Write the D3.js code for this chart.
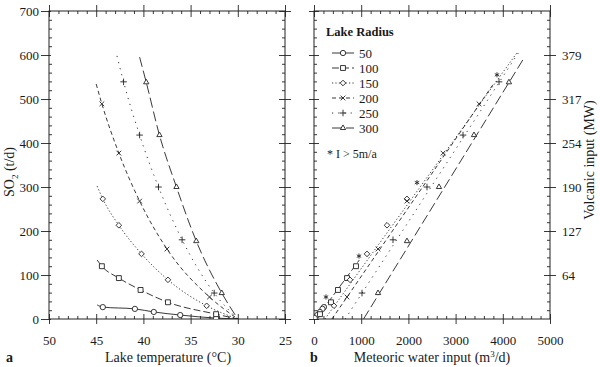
<!DOCTYPE html>
<html>
<head>
<meta charset="utf-8">
<script src="https://cdn.jsdelivr.net/npm/d3@7"></script>
<style>
  body { margin: 0; background: #fff; }
  text { font-family: "Liberation Serif", "DejaVu Serif", serif; fill: #1a1a1a; }
</style>
</head>
<body>
<svg id="chart" width="600" height="367"></svg>
<script>
// lake radius series
const radii = [50, 100, 150, 200, 250, 300];
const dashes = ['none', '7,3', '1.2,2.2', '4,3', '1.2,5', '10,4'];

// panel a: curve nodes (first and last are only line ends, markers on the rest)
const tempA = [
    [44.9, 44.3, 40.9, 38.9, 36.1, 32.3, 30.0],
    [44.9, 44.4, 42.6, 40.3, 37.4, 32.3, 30.0],
    [44.9, 44.3, 42.6, 40.2, 37.4, 33.3, 30.0],
    [45.0, 44.4, 42.6, 40.4, 37.5, 33.0, 30.0],
    [42.8, 42.1, 40.4, 38.4, 35.9, 32.5, 30.0],
    [40.4, 39.7, 38.3, 36.5, 34.4, 31.7, 30.0]
];
const so2A = [
    [32, 27, 23, 16, 9, 2, 0],
    [134, 120, 93, 66, 38, 11, 0],
    [302, 273, 213, 148, 89, 30, 0],
    [534, 489, 377, 268, 159, 50, 0],
    [598, 539, 418, 300, 180, 59, 0],
    [595, 538, 418, 300, 177, 59, 0]
];

// panel b: meteoric water at the marker points (same SO2 as panel a markers)
const waterB = [
    [210, 180, 125, 70, 15],
    [890, 700, 508, 360, 127],
    [1970, 1547, 1123, 763, 424],
    [3496, 2733, 1970, 1356, 699],
    [3920, 3157, 2394, 1674, 1017],
    [4130, 3390, 2648, 1970, 1356]
];
// panel b straight line ends [water, SO2]
const lineStartB = [[0, 0], [40, 0], [230, 0], [380, 0], [660, 0], [1050, 0]];
const lineEndB = [[240, 33], [960, 134], [4300, 605], [3800, 534], [4330, 605], [4460, 595]];

// I > 5m/a points
const starWater = [254, 953, 2182, 3877];
const starSO2 = [50, 143, 310, 555];

const volcTicks = [100, 200, 300, 400, 500, 600];
const volcLabels = ['64', '127', '190', '254', '317', '379'];

const svg = d3.select('#chart');
const ink = '#222';

const yS = d3.scaleLinear().domain([0, 700]).range([319, 11]);
const xA = d3.scaleLinear().domain([50, 25]).range([49, 285]);
const xB = d3.scaleLinear().domain([0, 5000]).range([314, 550]);

const symbols = [d3.symbolCircle, d3.symbolSquare, d3.symbolDiamond2, d3.symbolX, d3.symbolPlus, d3.symbolTriangle2];
const symSize = [22, 24, 20, 16, 16, 20];

function drawMarker(g, i, x, y) {
    g.append('path')
        .attr('d', d3.symbol(symbols[i], symSize[i])())
        .attr('transform', `translate(${x},${y})`)
        .attr('fill', '#fff')
        .attr('stroke', ink)
        .attr('stroke-width', 0.9);
}

function styleAxis(g) {
    g.select('.domain').remove();
    g.selectAll('line').attr('stroke', ink).attr('stroke-width', 0.9);
    g.selectAll('text').attr('font-size', 13).attr('fill', '#1a1a1a')
        .style('font-family', '"Liberation Serif", serif');
}

function frame(x, y, minorX, minorY, labelLeft, rightAxis) {
    let [x0, x1] = x.range();
    let [y0, y1] = y.range();
    let majX = x.ticks(5), majY = d3.range(0, 701, 100);

    // bottom
    svg.append('g').attr('transform', `translate(0,${y0})`)
        .call(d3.axisBottom(x).tickValues(majX).tickSize(5).tickPadding(12).tickFormat(d3.format('d')))
        .call(styleAxis);
    svg.append('g').attr('transform', `translate(0,${y0})`)
        .call(d3.axisTop(x).tickValues(majX).tickSize(5).tickFormat(''))
        .call(styleAxis);
    svg.append('g').attr('transform', `translate(0,${y0})`)
        .call(d3.axisTop(x).tickValues(minorX).tickSize(3).tickFormat(''))
        .call(styleAxis);
    // top
    svg.append('g').attr('transform', `translate(0,${y1})`)
        .call(d3.axisTop(x).tickValues(majX).tickSize(6).tickFormat(''))
        .call(styleAxis);
    svg.append('g').attr('transform', `translate(0,${y1})`)
        .call(d3.axisBottom(x).tickValues(majX).tickSize(6).tickFormat(''))
        .call(styleAxis);
    svg.append('g').attr('transform', `translate(0,${y1})`)
        .call(d3.axisBottom(x).tickValues(minorX).tickSize(3).tickFormat(''))
        .call(styleAxis);
    // left
    let left = d3.axisLeft(y).tickValues(majY).tickSize(labelLeft ? 8 : 5).tickPadding(2);
    if (!labelLeft) left.tickFormat('');
    svg.append('g').attr('transform', `translate(${x0},0)`).call(left).call(styleAxis);
    svg.append('g').attr('transform', `translate(${x0},0)`)
        .call(d3.axisRight(y).tickValues(majY).tickSize(labelLeft ? 2 : 5).tickFormat(''))
        .call(styleAxis);
    svg.append('g').attr('transform', `translate(${x0},0)`)
        .call(d3.axisRight(y).tickValues(minorY).tickSize(3).tickFormat(''))
        .call(styleAxis);
    // right
    let rMaj = rightAxis ? volcTicks : majY;
    let right = d3.axisRight(y).tickValues(rMaj).tickSize(6).tickPadding(6);
    if (rightAxis) right.tickFormat((d, i) => volcLabels[i]);
    else right.tickFormat('');
    svg.append('g').attr('transform', `translate(${x1},0)`).call(right).call(styleAxis);
    svg.append('g').attr('transform', `translate(${x1},0)`)
        .call(d3.axisLeft(y).tickValues(rMaj).tickSize(6).tickFormat(''))
        .call(styleAxis);
    svg.append('g').attr('transform', `translate(${x1},0)`)
        .call(d3.axisLeft(y).tickValues(minorY).tickSize(3).tickFormat(''))
        .call(styleAxis);

    svg.append('rect')
        .attr('x', x0).attr('y', y1).attr('width', x1 - x0).attr('height', y0 - y1)
        .attr('fill', 'none').attr('stroke', ink).attr('stroke-width', 1);
}

const minorY = d3.range(0, 701, 20).filter(d => d % 100 !== 0);
frame(xA, yS, d3.range(25, 51, 1).filter(d => d % 5 !== 0), minorY, true, false);
frame(xB, yS, d3.range(0, 5001, 200).filter(d => d % 1000 !== 0), minorY, false, true);

// clip paths
let defs = svg.append('defs');
defs.append('clipPath').attr('id', 'clipA').append('rect')
    .attr('x', 49).attr('y', 11).attr('width', 236).attr('height', 308);
defs.append('clipPath').attr('id', 'clipB').append('rect')
    .attr('x', 314).attr('y', 11).attr('width', 236).attr('height', 308);

// panel a curves
let gA = svg.append('g').attr('clip-path', 'url(#clipA)');
let lineA = d3.line().curve(d3.curveMonotoneX);
radii.forEach((r, i) => {
    let pts = tempA[i].map((t, j) => [xA(t), yS(so2A[i][j])]);
    gA.append('path').attr('d', lineA(pts))
        .attr('fill', 'none').attr('stroke', ink).attr('stroke-width', 0.9)
        .attr('stroke-dasharray', dashes[i]);
});
radii.forEach((r, i) => {
    for (let j = 1; j < tempA[i].length - 1; j++)
        drawMarker(gA, i, xA(tempA[i][j]), yS(so2A[i][j]));
});

// panel b lines
let gB = svg.append('g').attr('clip-path', 'url(#clipB)');
radii.forEach((r, i) => {
    gB.append('line')
        .attr('x1', xB(lineStartB[i][0])).attr('y1', yS(lineStartB[i][1]))
        .attr('x2', xB(lineEndB[i][0])).attr('y2', yS(lineEndB[i][1]))
        .attr('stroke', ink).attr('stroke-width', 0.9)
        .attr('stroke-dasharray', dashes[i]);
});
radii.forEach((r, i) => {
    waterB[i].forEach((w, j) => drawMarker(gB, i, xB(w), yS(so2A[i][j + 1])));
});
starWater.forEach((w, j) => {
    gB.append('path').attr('d', d3.symbol(d3.symbolAsterisk, 18)())
        .attr('transform', `translate(${xB(w)},${yS(starSO2[j])})`)
        .attr('fill', 'none').attr('stroke', ink).attr('stroke-width', 0.9);
});

// legend
let lg = svg.append('g');
lg.append('text').attr('x', 326).attr('y', 36).attr('font-size', 12.5)
    .attr('font-weight', 'bold').text('Lake Radius');
radii.forEach((r, i) => {
    let y = 53 + i * 15;
    lg.append('line').attr('x1', 332).attr('x2', 354).attr('y1', y).attr('y2', y)
        .attr('stroke', ink).attr('stroke-width', 0.9).attr('stroke-dasharray', dashes[i]);
    drawMarker(lg, i, 343, y);
    lg.append('text').attr('x', 359).attr('y', y + 4.5).attr('font-size', 13).text(r);
});
lg.append('text').attr('x', 327).attr('y', 158).attr('font-size', 12).text('* I > 5m/a');

// axis titles
svg.append('text').attr('x', 168).attr('y', 362).attr('text-anchor', 'middle')
    .attr('font-size', 14).text('Lake temperature (°C)');
let mt = svg.append('text').attr('x', 432).attr('y', 362).attr('text-anchor', 'middle')
    .attr('font-size', 14);
mt.append('tspan').text('Meteoric water input (m');
mt.append('tspan').attr('font-size', 9).attr('dy', -5).text('3');
mt.append('tspan').attr('dy', 5).text('/d)');

let st = svg.append('text').attr('transform', 'translate(14,172) rotate(-90)')
    .attr('text-anchor', 'middle').attr('font-size', 14);
st.append('tspan').text('SO');
st.append('tspan').attr('font-size', 9).attr('dy', 4).text('2');
st.append('tspan').attr('dy', -4).text(' (t/d)');

svg.append('text').attr('transform', 'translate(594,160) rotate(-90)')
    .attr('text-anchor', 'middle').attr('font-size', 14).text('Volcanic input (MW)');

svg.append('text').attr('x', 6).attr('y', 362).attr('font-size', 14)
    .attr('font-weight', 'bold').text('a');
svg.append('text').attr('x', 310).attr('y', 362).attr('font-size', 14)
    .attr('font-weight', 'bold').text('b');
</script>
</body>
</html>
